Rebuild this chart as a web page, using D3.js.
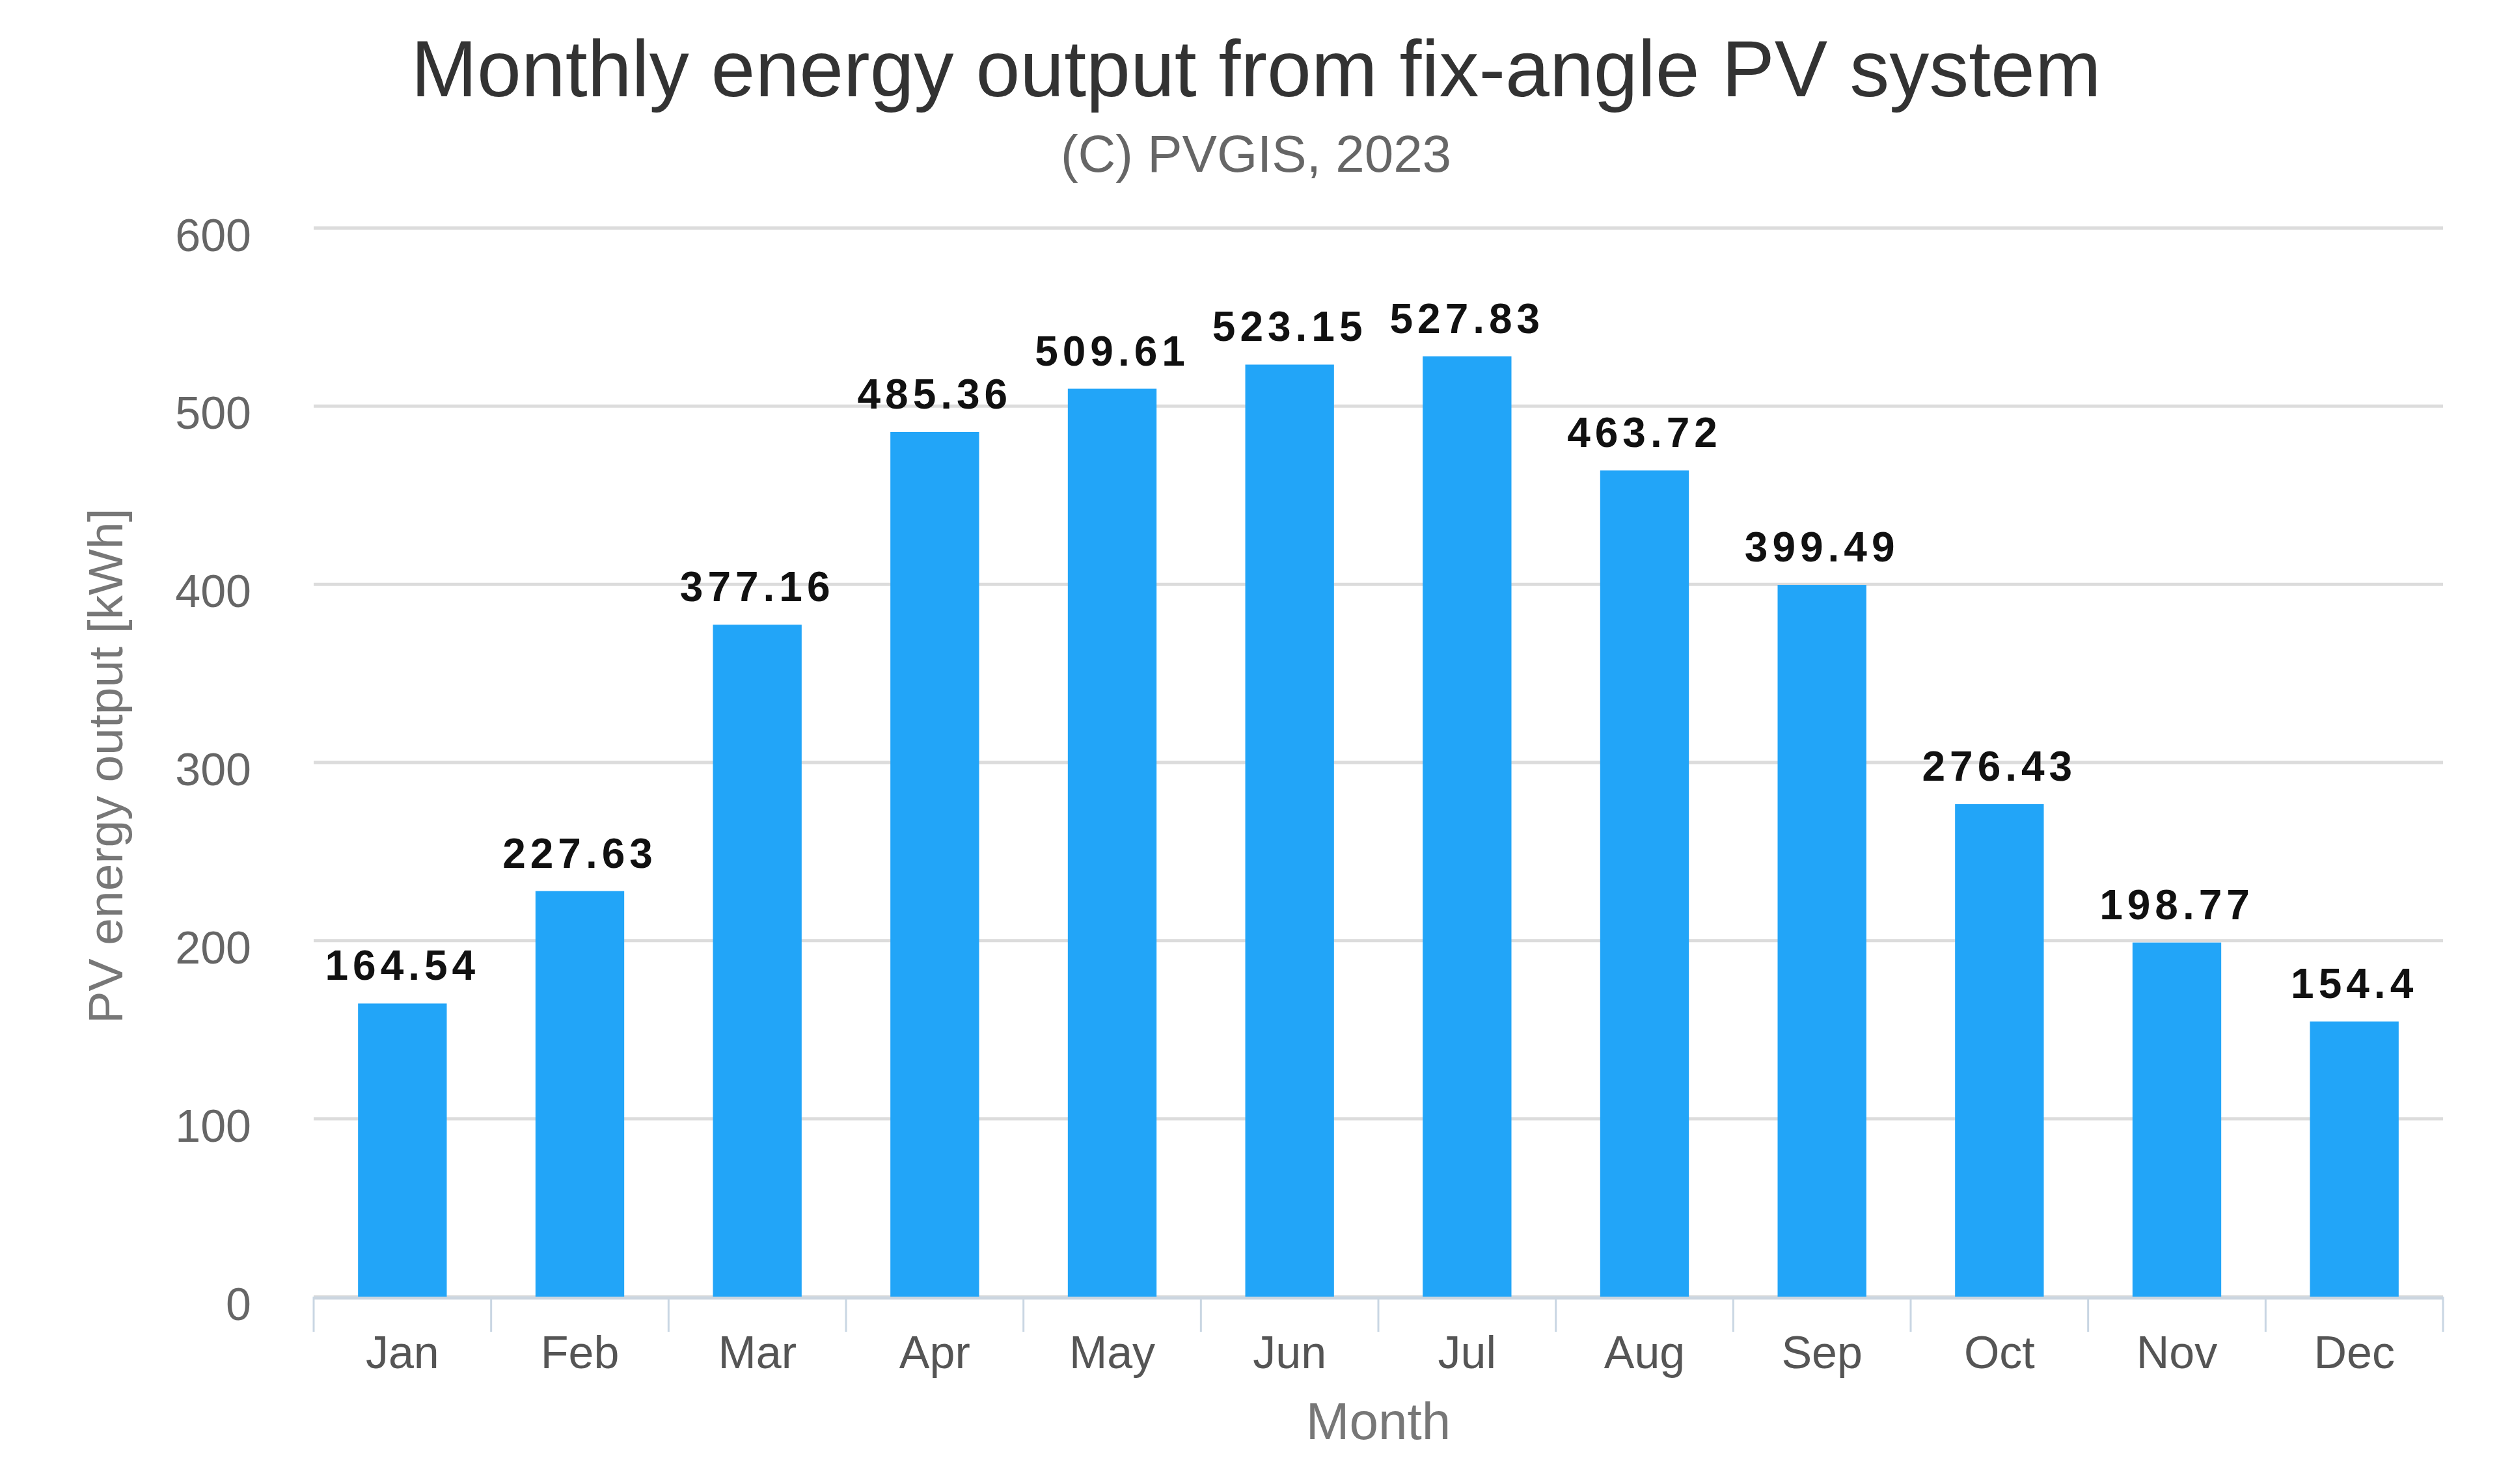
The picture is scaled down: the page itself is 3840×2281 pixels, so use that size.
<!DOCTYPE html>
<html>
<head>
<meta charset="utf-8">
<script src="https://cdn.jsdelivr.net/npm/d3@7"></script>
<style>
  html, body { margin: 0; padding: 0; background: #fff; }
  svg { display: block; font-family: "Liberation Sans", Arial, sans-serif; }
</style>
</head>
<body>
<div id="chart"></div>
<script>
const months = ["Jan", "Feb", "Mar", "Apr", "May", "Jun", "Jul", "Aug", "Sep", "Oct", "Nov", "Dec"];
const output = [164.54, 227.63, 377.16, 485.36, 509.61, 523.15, 527.83, 463.72, 399.49, 276.43, 198.77, 154.4];
const yTicks = [0, 100, 200, 300, 400, 500, 600];

const width = 3840;
const height = 2281;
const margin = { top: 350, right: 86, bottom: 288, left: 482 };

const svg = d3.select("#chart")
  .append("svg")
  .attr("width", width)
  .attr("height", height)
  .attr("viewBox", [0, 0, width, height]);

const x = d3.scaleBand()
  .domain(months)
  .range([margin.left, width - margin.right])
  .paddingInner(0.5)
  .paddingOuter(0.25);

const y = d3.scaleLinear()
  .domain([0, 600])
  .range([height - margin.bottom, margin.top]);

// gridlines + y labels
const yAxis = svg.append("g")
  .attr("transform", `translate(${margin.left},0)`)
  .call(d3.axisLeft(y).tickValues(yTicks).tickSize(-(width - margin.left - margin.right)).tickPadding(96));

yAxis.select(".domain").remove();
yAxis.selectAll(".tick line")
  .attr("stroke", "#dcdcdc")
  .attr("stroke-width", 5);
yAxis.selectAll(".tick text")
  .attr("fill", "#666")
  .attr("font-size", 70)
  .attr("dy", "0.5em");

// x axis with category ticks
const band = x.step();
const xAxis = svg.append("g")
  .attr("transform", `translate(0,${height - margin.bottom})`)
  .call(d3.axisBottom(x).tickSize(0).tickPadding(60));

xAxis.select(".domain").remove();
xAxis.selectAll(".tick text")
  .attr("fill", "#555")
  .attr("font-size", 70);

const edges = d3.range(months.length + 1).map(i => margin.left + i * band);
svg.append("g")
  .selectAll("line")
  .data(edges)
  .join("line")
  .attr("x1", d => d)
  .attr("x2", d => d)
  .attr("y1", y(0))
  .attr("y2", y(0) + 54)
  .attr("stroke", "#c9d6e3")
  .attr("stroke-width", 3);

svg.append("line")
  .attr("x1", margin.left)
  .attr("x2", width - margin.right)
  .attr("y1", y(0) + 2)
  .attr("y2", y(0) + 2)
  .attr("stroke", "#ccd6e0")
  .attr("stroke-width", 5);

// bars
svg.append("g")
  .selectAll("rect")
  .data(output)
  .join("rect")
  .attr("x", (d, i) => x(months[i]))
  .attr("y", d => y(d))
  .attr("width", x.bandwidth())
  .attr("height", d => y(0) - y(d))
  .attr("fill", "#22a5f8");

// value labels
svg.append("g")
  .selectAll("text")
  .data(output)
  .join("text")
  .attr("x", (d, i) => x(months[i]) + x.bandwidth() / 2)
  .attr("y", d => y(d) - 36)
  .attr("text-anchor", "middle")
  .attr("font-size", 64)
  .attr("font-weight", "bold")
  .attr("letter-spacing", 7)
  .attr("fill", "#111")
  .text(d => d);

// titles
svg.append("text")
  .attr("x", 1930)
  .attr("y", 148)
  .attr("text-anchor", "middle")
  .attr("font-size", 122)
  .attr("fill", "#333")
  .text("Monthly energy output from fix-angle PV system");

svg.append("text")
  .attr("x", 1930)
  .attr("y", 264)
  .attr("text-anchor", "middle")
  .attr("font-size", 80)
  .attr("fill", "#666")
  .text("(C) PVGIS, 2023");

svg.append("text")
  .attr("transform", `translate(188,${(y(0) + y(600)) / 2 + 6}) rotate(-90)`)
  .attr("text-anchor", "middle")
  .attr("font-size", 75)
  .attr("fill", "#777")
  .text("PV energy output [kWh]");

svg.append("text")
  .attr("x", (margin.left + width - margin.right) / 2)
  .attr("y", 2212)
  .attr("text-anchor", "middle")
  .attr("font-size", 80)
  .attr("fill", "#777")
  .text("Month");
</script>
</body>
</html>
